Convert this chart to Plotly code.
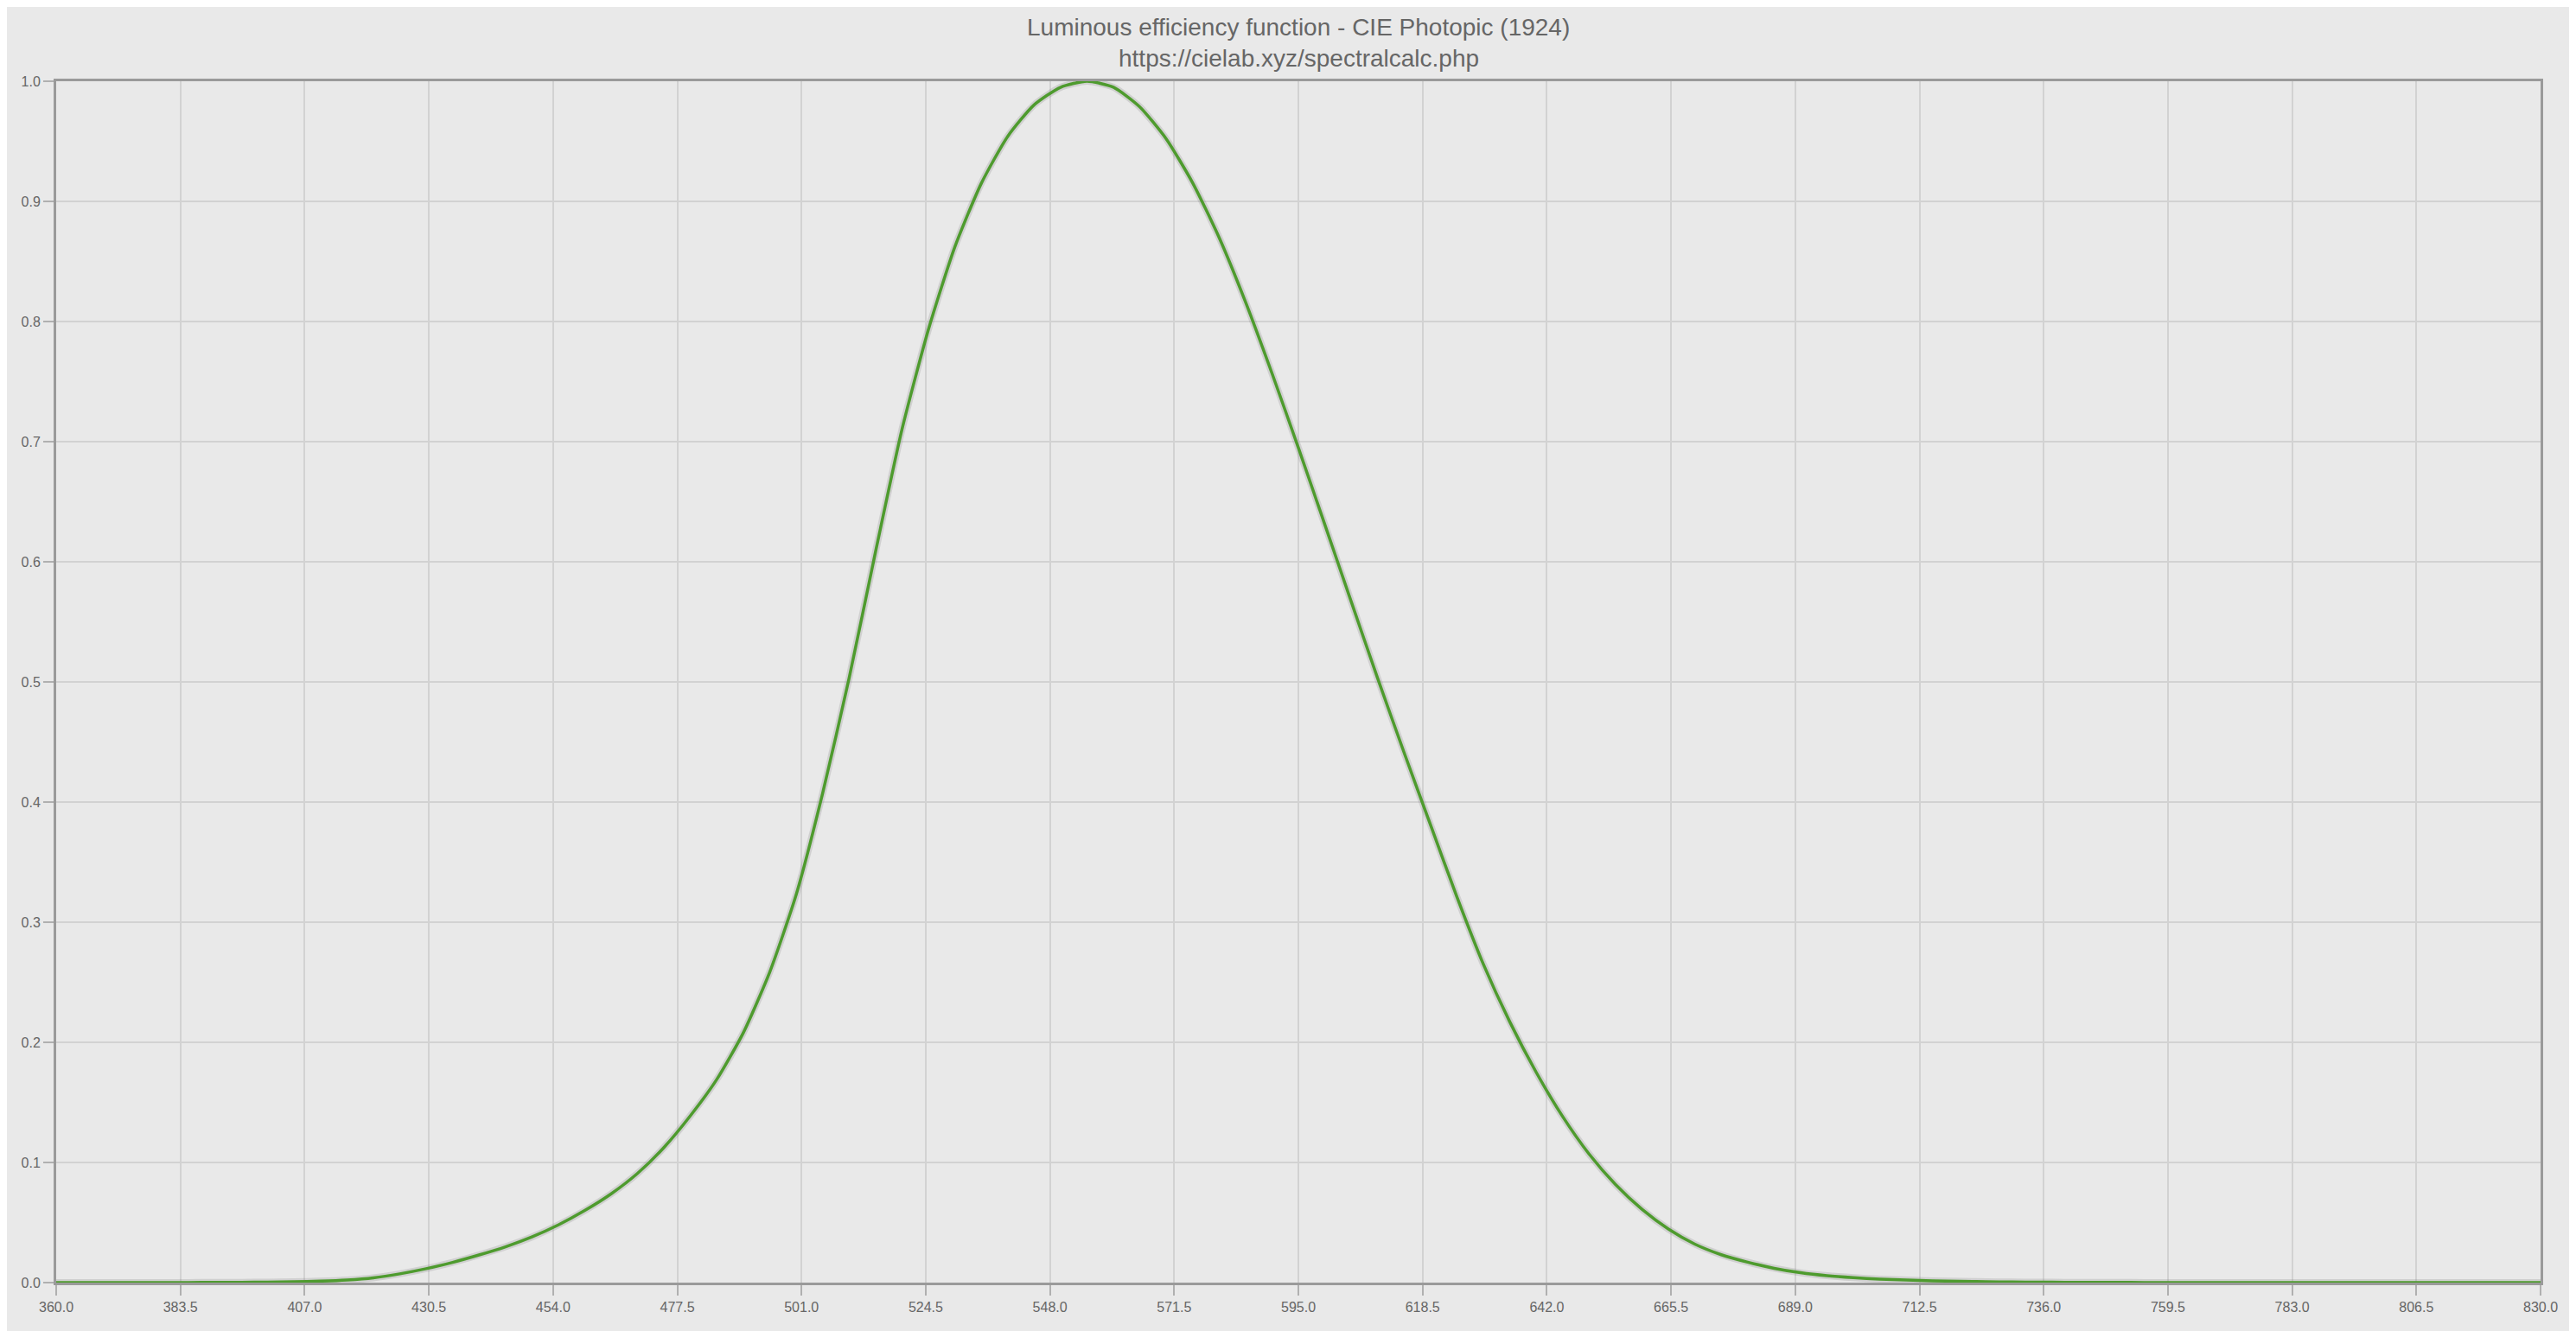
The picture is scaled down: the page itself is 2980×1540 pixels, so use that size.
import plotly.graph_objects as go

wavelength_nm = list(range(360, 835, 5))
photopic_v = [
    0.000003917, 0.000006965, 0.00001239, 0.00002202, 0.000039, 0.000064, 0.00012, 0.000217,
    0.000396, 0.00064, 0.00121, 0.00218, 0.004, 0.0073, 0.0116, 0.01684, 0.023, 0.0298,
    0.038, 0.048, 0.06, 0.0739, 0.09098, 0.1126, 0.13902, 0.1693, 0.20802, 0.2586,
    0.323, 0.4073, 0.503, 0.6082, 0.71, 0.7932, 0.862, 0.91485, 0.954, 0.9803,
    0.99495, 1.0, 0.995, 0.9786, 0.952, 0.9154, 0.87, 0.8163, 0.757, 0.6949,
    0.631, 0.5668, 0.503, 0.4412, 0.381, 0.321, 0.265, 0.217, 0.175, 0.1382,
    0.107, 0.0816, 0.061, 0.04458, 0.032, 0.0232, 0.017, 0.01192, 0.00821, 0.005723,
    0.004102, 0.002929, 0.002091, 0.001484, 0.001047, 0.00074, 0.00052, 0.0003611,
    0.0002492, 0.0001719, 0.00012, 0.0000848, 0.00006, 0.0000424, 0.00003, 0.0000212,
    0.0000149, 0.0000106, 0.0000074657, 0.0000052578, 0.0000037029, 0.0000026078,
    0.0000018366, 0.0000012934, 0.00000091093, 0.00000064153, 0.00000045181,
]
title_lines = ["Luminous efficiency function - CIE Photopic (1924)", "https://cielab.xyz/spectralcalc.php"]
x_ticks = [360 + 23.5 * i for i in range(21)]
y_ticks = [i / 10 for i in range(11)]

font_family = "Liberation Sans, Arial, sans-serif"

# the page body adds an 8px offset, so the figure is 8px smaller
W, H = 2972, 1532
M_L, M_R, M_T, M_B = 57, 41, 86, 56
plot_h = H - M_T - M_B

fig = go.Figure()
fig.add_trace(go.Scatter(
    x=wavelength_nm, y=photopic_v, mode="lines",
    line=dict(color="rgba(120,120,120,0.22)", width=8, shape="spline", smoothing=0.6),
    hoverinfo="skip", showlegend=False,
))
fig.add_trace(go.Scatter(
    x=wavelength_nm, y=photopic_v, mode="lines",
    line=dict(color="#4e9b2e", width=3.5, shape="spline", smoothing=0.6),
    showlegend=False,
))

axis_common = dict(
    showgrid=True, gridcolor="#d2d2d2", gridwidth=2,
    showline=True, linecolor="#9a9a9a", linewidth=3, mirror=True,
    ticks="outside", ticklen=12, tickwidth=2, tickcolor="#b0b0b0",
    tickfont=dict(family=font_family, size=16, color="#666666"),
    zeroline=False, tickformat=".1f",
)

for line_text, y_px in zip(title_lines, [24, 60]):
    fig.add_annotation(
        text=line_text, xref="paper", yref="paper",
        x=0.5, xanchor="center",
        y=(H - M_B - y_px) / plot_h, yanchor="middle",
        showarrow=False,
        font=dict(family=font_family, size=28, color="#666666"),
    )

fig.update_layout(
    width=W, height=H,
    paper_bgcolor="#e9e9e9", plot_bgcolor="#e9e9e9",
    margin=dict(l=M_L, r=M_R, t=M_T, b=M_B),
    xaxis=dict(range=[360, 830], tickvals=x_ticks, **axis_common),
    yaxis=dict(range=[0, 1.0], tickvals=y_ticks, **axis_common),
)

fig.write_html("out.html")
